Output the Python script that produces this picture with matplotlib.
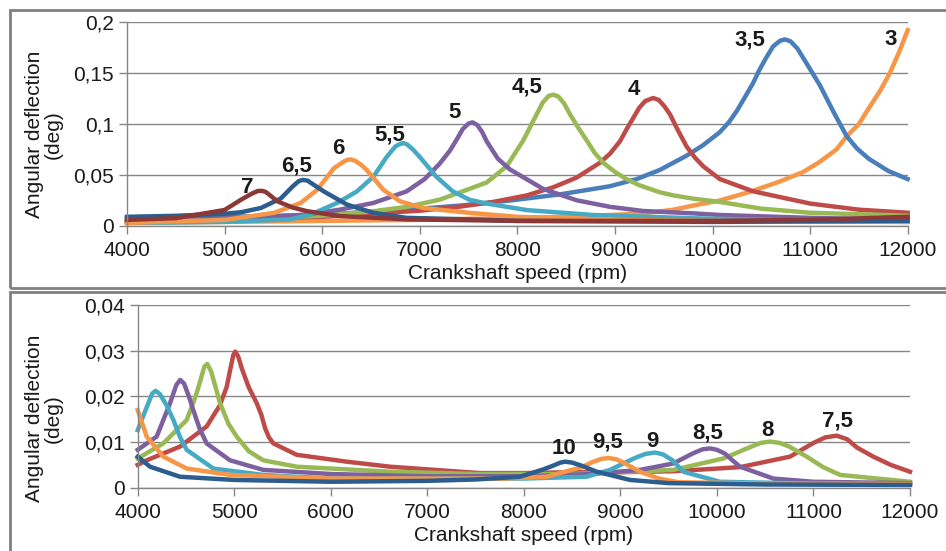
import matplotlib
matplotlib.use("Agg")
import matplotlib.pyplot as plt
from matplotlib.patches import Rectangle

plt.rcParams['font.family'] = ['Liberation Sans', 'DejaVu Sans']

# ---- top panel: orders 3 .. 7 (speed rpm, deflection deg) ----
rpm_3 = [4000, 5000, 6000, 7000, 8000, 8500, 9000, 9300, 9600, 9800, 10075, 10400, 10700,
         10930, 11100, 11270, 11375, 11500, 11612, 11720, 11817, 11910, 12000]
defl_3 = [0.003, 0.004, 0.005, 0.006, 0.008, 0.009, 0.011, 0.0125, 0.016, 0.020, 0.025, 0.034, 0.044,
          0.053, 0.063, 0.075, 0.088, 0.100, 0.117, 0.133, 0.150, 0.170, 0.192]

rpm_35 = [4000, 5000, 6000, 6490, 7000, 7413, 7925, 8437, 8949, 9223, 9461, 9735, 9900, 10075, 10170, 10250,
          10330, 10415, 10480, 10550, 10620, 10690, 10743, 10800, 10870, 10960, 11030, 11100, 11175,
          11250, 11375, 11480, 11600, 11800, 12000]
defl_35 = [0.008, 0.009, 0.011, 0.014, 0.017, 0.020, 0.025, 0.031, 0.039, 0.046, 0.055, 0.069, 0.079, 0.092, 0.102, 0.113,
           0.126, 0.140, 0.153, 0.165, 0.176, 0.1815, 0.183, 0.181, 0.174, 0.160, 0.149, 0.138, 0.124,
           0.110, 0.088, 0.076, 0.066, 0.054, 0.046]

rpm_4 = [4000, 5000, 6000, 6500, 7000, 7413, 7754, 8096, 8369, 8608, 8846, 8950, 9051, 9120, 9188, 9250, 9310,
         9392, 9450, 9510, 9563, 9650, 9734, 9820, 9904, 10075, 10417, 11000, 11500, 12000]
defl_4 = [0.005, 0.007, 0.009, 0.012, 0.015, 0.019, 0.0236, 0.030, 0.038, 0.0475, 0.062, 0.071, 0.083, 0.095, 0.106, 0.116, 0.1225,
          0.1255, 0.1235, 0.117, 0.1096, 0.093, 0.078, 0.067, 0.0586, 0.046, 0.034, 0.022, 0.016, 0.013]

rpm_45 = [4000, 5000, 6000, 6525, 6864, 7203, 7413, 7686, 7891, 8061, 8198, 8260, 8320, 8369, 8420, 8480,
          8539, 8620, 8710, 8790, 8880, 9000, 9119, 9250, 9461, 9600, 9802, 10075, 10500, 11000, 11700, 12000]
defl_45 = [0.004, 0.006, 0.010, 0.0145, 0.0187, 0.0258, 0.033, 0.0427, 0.0586, 0.084, 0.1096, 0.121, 0.1275, 0.1287, 0.127, 0.120,
           0.1096, 0.097, 0.084, 0.072, 0.062, 0.053, 0.0459, 0.040, 0.033, 0.030, 0.0268, 0.0236, 0.017, 0.013, 0.011, 0.010]

rpm_5 = [4000, 5000, 5847, 6186, 6525, 6864, 7050, 7203, 7310, 7380, 7440, 7500, 7540, 7590, 7640, 7686, 7800,
         7925, 8266, 8608, 8949, 9290, 9802, 10075, 11000, 12000]
defl_5 = [0.004, 0.006, 0.0113, 0.0161, 0.0226, 0.0339, 0.046, 0.061, 0.074, 0.085, 0.095, 0.1005, 0.1016, 0.099, 0.092, 0.083, 0.066,
          0.0554, 0.0363, 0.0252, 0.0188, 0.0147, 0.0124, 0.0108, 0.008, 0.006]

rpm_55 = [4000, 5000, 5678, 5900, 6153, 6356, 6525, 6661, 6750, 6800, 6831, 6870, 6930, 7000, 7169,
          7339, 7508, 7686, 8096, 8778, 9802, 11000, 12000]
defl_55 = [0.003, 0.004, 0.0065, 0.012, 0.0226, 0.0339, 0.0484, 0.0677, 0.078, 0.0805, 0.0813, 0.080, 0.075, 0.0677, 0.0484,
           0.0339, 0.0258, 0.022, 0.0156, 0.0108, 0.0076, 0.005, 0.004]

rpm_6 = [4000, 5000, 5508, 5780, 5949, 6119, 6210, 6260, 6300, 6340, 6400, 6458, 6627, 6797, 7034,
         7508, 8000, 9000, 10000, 12000]
defl_6 = [0.003, 0.006, 0.0129, 0.0226, 0.0355, 0.0565, 0.0625, 0.065, 0.0652, 0.0638, 0.060, 0.0548, 0.0355, 0.0242, 0.0177,
          0.0129, 0.009, 0.006, 0.005, 0.004]

rpm_65 = [4000, 4500, 5000, 5169, 5373, 5576, 5700, 5760, 5800, 5850, 5920, 6017, 6254, 6525, 6864,
          7508, 8000, 10000, 12000]
defl_65 = [0.009, 0.010, 0.012, 0.0135, 0.0177, 0.027, 0.039, 0.044, 0.0452, 0.0445, 0.040, 0.0339, 0.021, 0.0129, 0.008,
           0.0065, 0.005, 0.004, 0.005]

rpm_7 = [4000, 4500, 5000, 5169, 5280, 5340, 5380, 5420, 5480, 5542, 5700, 5847, 6186, 6864, 8000,
         10000, 11000, 12000]
defl_7 = [0.006, 0.0077, 0.0157, 0.0258, 0.0318, 0.0343, 0.0345, 0.0335, 0.029, 0.0242, 0.018, 0.0145, 0.0097, 0.0065, 0.005,
          0.005, 0.006, 0.009]

# ---- bottom panel: orders 7,5 .. 10 ----
rpm_75 = [4000, 4093, 4438, 4714, 4850, 4921, 4960, 4990, 5010, 5040, 5080, 5150, 5233, 5280, 5320,
          5360, 5405, 5647, 6165, 6613, 7545, 8000, 8500, 9000, 9548, 10239, 10757, 11000, 11120,
          11241, 11350, 11450, 11620, 11800, 12000]
defl_75 = [0.005, 0.006, 0.009, 0.0134, 0.018, 0.022, 0.026, 0.029, 0.0298, 0.0288, 0.026, 0.022, 0.0185, 0.016, 0.013,
           0.011, 0.0097, 0.0072, 0.0057, 0.0046, 0.0032, 0.0032, 0.0034, 0.0034, 0.0036, 0.0045, 0.0068, 0.0098, 0.0110,
           0.0114, 0.0106, 0.0088, 0.0068, 0.005, 0.0035]

rpm_8 = [4000, 4265, 4507, 4600, 4650, 4690, 4720, 4760, 4800, 4853, 4940, 5025, 5150, 5300, 5647,
         6613, 7500, 8500, 9548, 10066, 10300, 10450, 10550, 10650, 10750, 10930, 11100, 11275, 12000]
defl_8 = [0.0064, 0.0097, 0.0148, 0.020, 0.0235, 0.0265, 0.0271, 0.0255, 0.0225, 0.0185, 0.014, 0.0112, 0.008, 0.006, 0.0046,
          0.0035, 0.003, 0.003, 0.0039, 0.0064, 0.0085, 0.0098, 0.0101, 0.0098, 0.009, 0.0068, 0.0045, 0.0028, 0.0013]

rpm_85 = [4000, 4197, 4335, 4400, 4440, 4480, 4530, 4576, 4640, 4714, 4956, 5300, 6000, 7000, 8000,
          8700, 9203, 9548, 9750, 9850, 9929, 10000, 10080, 10160, 10239, 10584, 11000, 12000]
defl_85 = [0.0083, 0.0112, 0.0185, 0.0225, 0.0236, 0.0228, 0.020, 0.017, 0.013, 0.0097, 0.006, 0.0039, 0.003, 0.0025, 0.0025,
           0.003, 0.0039, 0.0053, 0.0075, 0.0084, 0.0086, 0.0083, 0.0075, 0.006, 0.0046, 0.002, 0.0013, 0.001]

rpm_9 = [4000, 4100, 4150, 4185, 4230, 4300, 4370, 4440, 4507, 4783, 5300, 6000, 7000, 8000, 8650,
         8893, 9150, 9260, 9360, 9440, 9540, 9651, 10032, 11000, 12000]
defl_9 = [0.0126, 0.018, 0.0206, 0.0212, 0.0205, 0.018, 0.0148, 0.011, 0.0083, 0.0042, 0.0028, 0.002, 0.002, 0.002, 0.0024,
          0.0039, 0.0065, 0.0074, 0.0077, 0.0073, 0.006, 0.0035, 0.0013, 0.0009, 0.0008]

rpm_95 = [4000, 4093, 4265, 4507, 4956, 6000, 7000, 7800, 8236, 8600, 8700, 8800, 8880, 8960, 9050,
          9203, 9400, 9600, 10500, 12000]
defl_95 = [0.017, 0.0112, 0.0068, 0.0042, 0.0028, 0.002, 0.002, 0.002, 0.0024, 0.0045, 0.0055, 0.0063, 0.0065, 0.0062, 0.0053,
           0.0035, 0.002, 0.0012, 0.0009, 0.0008]

rpm_10 = [4000, 4127, 4438, 5000, 6000, 7000, 7500, 7960, 8200, 8300, 8380, 8426, 8500, 8600, 8755,
          9100, 9500, 10500, 12000]
defl_10 = [0.0068, 0.0046, 0.0024, 0.0017, 0.0013, 0.0015, 0.0018, 0.0024, 0.004, 0.0048, 0.0055, 0.0057, 0.0055, 0.0048, 0.0035,
           0.0017, 0.001, 0.0007, 0.0006]

top_curves = [(rpm_3, defl_3, '#F79646'), (rpm_35, defl_35, '#4A7EBB'), (rpm_4, defl_4, '#BE4B48'),
              (rpm_45, defl_45, '#98B954'), (rpm_5, defl_5, '#7D60A0'), (rpm_55, defl_55, '#46AAC5'),
              (rpm_6, defl_6, '#F79646'), (rpm_65, defl_65, '#2C5D8F'), (rpm_7, defl_7, '#8C3836')]
bottom_curves = [(rpm_75, defl_75, '#BE4B48'), (rpm_8, defl_8, '#98B954'), (rpm_85, defl_85, '#7D60A0'),
                 (rpm_9, defl_9, '#46AAC5'), (rpm_95, defl_95, '#F79646'), (rpm_10, defl_10, '#2C5D8F')]

# peak labels: text, rpm, deflection
top_labels = [('7', 5230, 0.038), ('6,5', 5739, 0.059), ('6', 6165, 0.076), ('5,5', 6695, 0.089),
              ('5', 7361, 0.111), ('4,5', 8095, 0.136), ('4', 9195, 0.134), ('3,5', 10384, 0.182),
              ('3', 11826, 0.183)]
bottom_labels = [('10', 8419, 0.0085), ('9,5', 8868, 0.0099), ('9', 9334, 0.0102), ('8,5', 9900, 0.0120),
                 ('8', 10526, 0.0126), ('7,5', 11251, 0.0146)]

x_ticks = [4000, 5000, 6000, 7000, 8000, 9000, 10000, 11000, 12000]
top_yticks = [0, 0.05, 0.1, 0.15, 0.2]
top_ylabels = ['0', '0,05', '0,1', '0,15', '0,2']
bottom_yticks = [0, 0.01, 0.02, 0.03, 0.04]
bottom_ylabels = ['0', '0,01', '0,02', '0,03', '0,04']

W, H = 946, 551
fig = plt.figure(figsize=(W / 100, H / 100), dpi=100)

# panel frames (like the two pasted chart boxes)
fig.patches.append(Rectangle((10 / W, 1 - 288 / H), 940 / W, 278 / H, transform=fig.transFigure,
                             fill=False, edgecolor='#808080', linewidth=2))
fig.patches.append(Rectangle((10 / W, -0.05), 940 / W, 1 - 292 / H + 0.05, transform=fig.transFigure,
                             fill=False, edgecolor='#808080', linewidth=2))

ax1 = fig.add_axes([127 / W, 1 - 226 / H, 780.7 / W, 204 / H])
ax2 = fig.add_axes([137.7 / W, 1 - 487.7 / H, 772.3 / W, 182.7 / H])

grey = '#868686'
txt = '#1A1A1A'


def style_axis(ax, yticks, ylabels, ymax, label_x, label_y):
    ax.set_xlim(4000, 12000)
    ax.set_ylim(0, ymax)
    ax.set_xticks(x_ticks)
    ax.set_xticklabels([str(t) for t in x_ticks])
    ax.set_yticks(yticks)
    ax.set_yticklabels(ylabels)
    for s in ['top', 'right']:
        ax.spines[s].set_visible(False)
    for s in ['left', 'bottom']:
        ax.spines[s].set_color(grey)
        ax.spines[s].set_linewidth(1)
    ax.grid(axis='y', color=grey, linewidth=1)
    ax.set_axisbelow(True)
    ax.tick_params(axis='both', colors=grey, labelcolor=txt, labelsize=15, length=6, width=1)
    ax.tick_params(axis='x', pad=5)
    ax.set_xlabel('Crankshaft speed (rpm)', fontsize=15, color=txt, labelpad=3)
    ax.set_ylabel('Angular deflection\n(deg)', fontsize=15, color=txt, linespacing=1.0)
    ax.yaxis.set_label_coords(label_x, label_y)


style_axis(ax1, top_yticks, top_ylabels, 0.2, -0.082, 0.45)
style_axis(ax2, bottom_yticks, bottom_ylabels, 0.04, -0.097, 0.38)

for rpm, defl, col in top_curves:
    ax1.plot(rpm, defl, color=col, linewidth=3.2, solid_joinstyle='round', clip_on=False)
for txt_, x, y in top_labels:
    ax1.text(x, y, txt_, fontsize=16, fontweight='bold', ha='center', va='center', color=txt)

for rpm, defl, col in bottom_curves:
    ax2.plot(rpm, defl, color=col, linewidth=3.2, solid_joinstyle='round', clip_on=False)
for txt_, x, y in bottom_labels:
    ax2.text(x, y, txt_, fontsize=16, fontweight='bold', ha='center', va='center', color=txt)

fig.savefig('out.png', dpi=100)
